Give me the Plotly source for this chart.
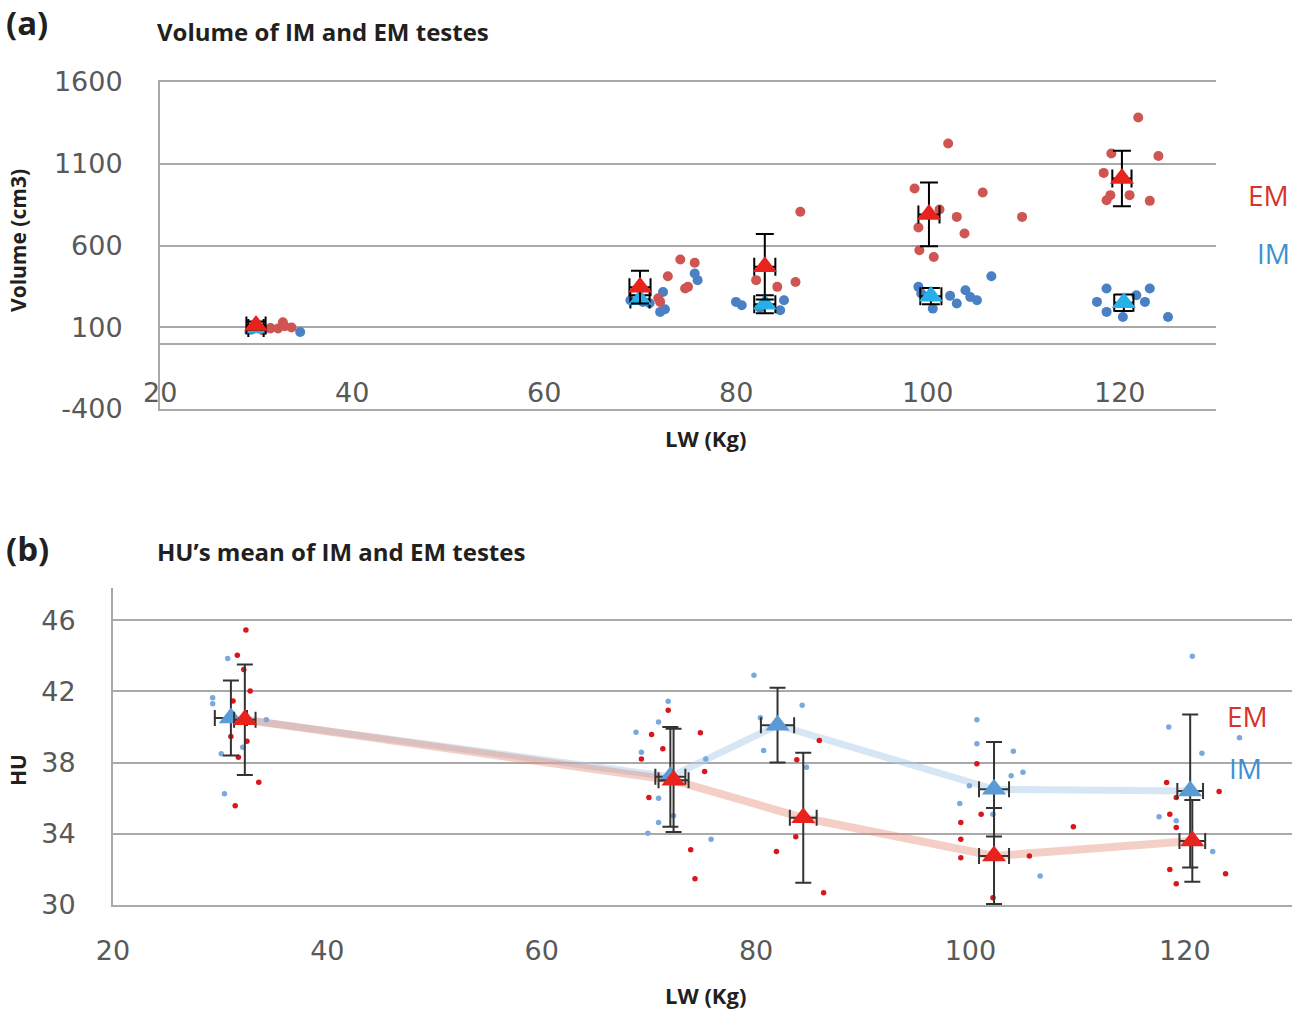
import plotly.graph_objects as go

W, H = 1295, 1010

# ---------------- Panel (a): Volume ----------------
A_X_TICKS = [20, 40, 60, 80, 100, 120]
A_Y_TICKS = [-400, 100, 600, 1100, 1600]

A_EM_X = [30.7, 31.5, 32.3, 33.0, 33.7, 32.8,
          71.9, 72.1, 72.9, 74.2, 74.7, 75.0, 75.7,
          82.1, 84.3, 86.2, 86.7,
          98.6, 99.0, 99.1, 100.6, 101.2, 102.1, 103.0, 103.8, 105.7, 109.8,
          118.3, 118.6, 119.0, 119.1, 121.0, 121.9, 123.1, 124.0]
A_EM_Y = [82, 92, 92, 106, 98, 130,
          277, 255, 412, 514, 337, 347, 494,
          388, 347, 377, 806,
          949, 710, 571, 530, 820, 1224, 775, 673, 924, 775,
          1044, 877, 908, 1163, 908, 1383, 873, 1147]

A_IM_X = [29.5, 30.5, 31.5, 34.6,
          69.0, 70.3, 71.0, 72.1, 72.4, 72.6, 75.7, 76.0,
          80.0, 80.6, 82.5, 84.6, 85.0,
          99.0, 99.3, 100.5, 102.3, 103.0, 103.9, 104.4, 105.1, 106.6,
          117.6, 118.6, 118.6, 120.3, 121.7, 122.6, 123.1, 125.0]
A_IM_Y = [85, 90, 95, 71,
          265, 255, 247, 194, 316, 210, 429, 388,
          255, 235, 220, 204, 265,
          347, 306, 214, 292, 245, 326, 285, 265, 412,
          255, 337, 194, 163, 296, 255, 337, 163]

A_EM_MEAN_X = [30.0, 70.0, 83.0, 100.1, 120.2]
A_EM_MEAN_Y = [110, 345, 470, 790, 1010]
A_EM_SD_Y = [25, 100, 200, 195, 170]
A_EM_SD_X = [1.0, 1.1, 1.1, 1.1, 1.0]
A_IM_MEAN_X = [30.0, 70.0, 83.0, 100.3, 120.4]
A_IM_MEAN_Y = [95, 270, 240, 290, 250]
A_IM_SD_Y = [15, 25, 55, 50, 50]
A_IM_SD_X = [0.8, 1.0, 1.1, 1.1, 1.0]

# ---------------- Panel (b): HU ----------------
B_X_TICKS = [20, 40, 60, 80, 100, 120]
B_Y_TICKS = [30, 34, 38, 42, 46]

B_EM_X = [32.4, 31.6, 32.2, 32.8, 31.2, 31.0, 32.5, 31.7, 33.6, 31.4,
          71.8, 70.25, 74.8, 71.3, 69.3, 75.2, 70.0, 73.9, 74.3,
          85.9, 83.8, 83.7, 81.9, 86.3,
          100.6, 101.0, 99.1, 99.1, 99.1, 105.5, 109.6, 102.1,
          118.3, 123.2, 119.2, 118.6, 119.2, 118.6, 123.8, 119.2]
B_EM_Y = [45.44, 44.03, 43.22, 42.02, 41.45, 39.46, 39.2, 38.3, 36.89, 35.58,
          40.93, 39.58, 39.67, 38.77, 38.2, 37.49, 36.04, 33.1, 31.48,
          39.24, 38.15, 33.83, 33.0, 30.69,
          37.93, 35.1, 34.63, 33.69, 32.66, 32.75, 34.39, 30.41,
          36.88, 36.38, 36.04, 35.1, 34.35, 32.0, 31.76, 31.2]
B_IM_X = [30.7, 29.3, 29.3, 34.3, 30.1, 32.1, 30.4,
          71.8, 70.9, 68.8, 69.3, 75.3, 70.9, 72.3, 70.9, 69.9, 75.8,
          79.8, 84.3, 80.4, 80.7, 84.7,
          100.6, 100.6, 104.0, 104.9, 103.8, 99.9, 99.0, 102.1, 106.5,
          120.7, 118.5, 125.1, 121.6, 117.6, 119.2, 122.6]
B_IM_Y = [43.84, 41.64, 41.3, 40.4, 38.49, 38.86, 36.24,
          41.44, 40.27, 39.7, 38.58, 38.2, 36.0, 35.01, 34.63, 34.03, 33.69,
          42.9, 41.21, 40.52, 38.68, 37.73,
          40.4, 39.05, 38.63, 37.45, 37.26, 36.7, 35.7, 35.1, 31.63,
          43.97, 39.99, 39.39, 38.52, 34.96, 34.73, 33.0]

B_EM_MEAN_X = [32.3, 72.3, 84.4, 102.2, 120.7]
B_EM_MEAN_Y = [40.4, 37.0, 34.9, 32.75, 33.6]
B_EM_SD_Y = [3.1, 2.9, 3.65, 2.7, 2.3]
B_EM_SD_X = [1.0, 1.4, 1.25, 1.4, 1.2]
B_IM_MEAN_X = [31.0, 72.0, 82.0, 102.2, 120.5]
B_IM_MEAN_Y = [40.5, 37.2, 40.1, 36.5, 36.4]
B_IM_SD_Y = [2.1, 2.8, 2.1, 2.65, 4.3]
B_IM_SD_X = [1.5, 1.4, 1.55, 1.4, 1.2]


def pxx(x):
    return x / W


def pyy(y):
    return 1 - y / H


fig = go.Figure()

# ---- panel a traces ----
fig.add_trace(go.Scatter(x=A_IM_X, y=A_IM_Y, mode="markers", xaxis="x", yaxis="y",
                         marker=dict(size=10, color="#4a80c4"), showlegend=False))
fig.add_trace(go.Scatter(x=A_EM_X, y=A_EM_Y, mode="markers", xaxis="x", yaxis="y",
                         marker=dict(size=10, color="#cf5552"), showlegend=False))
fig.add_trace(go.Scatter(x=A_IM_MEAN_X, y=A_IM_MEAN_Y, mode="markers", xaxis="x", yaxis="y",
                         marker=dict(size=21, color="#27b0e8", symbol="triangle-up"),
                         error_y=dict(type="data", array=A_IM_SD_Y, color="black", thickness=2, width=9),
                         error_x=dict(type="data", array=A_IM_SD_X, color="black", thickness=2, width=9),
                         showlegend=False))
fig.add_trace(go.Scatter(x=A_EM_MEAN_X, y=A_EM_MEAN_Y, mode="markers", xaxis="x", yaxis="y",
                         marker=dict(size=21, color="#e8231d", symbol="triangle-up"),
                         error_y=dict(type="data", array=A_EM_SD_Y, color="black", thickness=2, width=9),
                         error_x=dict(type="data", array=A_EM_SD_X, color="black", thickness=2, width=9),
                         showlegend=False))

# ---- panel b traces ----
fig.add_trace(go.Scatter(x=B_IM_MEAN_X, y=B_IM_MEAN_Y, mode="lines", xaxis="x2", yaxis="y2",
                         line=dict(width=7, color="rgba(175,205,235,0.5)"), showlegend=False))
fig.add_trace(go.Scatter(x=B_EM_MEAN_X, y=B_EM_MEAN_Y, mode="lines", xaxis="x2", yaxis="y2",
                         line=dict(width=8, color="rgba(226,140,120,0.42)"), showlegend=False))
fig.add_trace(go.Scatter(x=B_IM_X, y=B_IM_Y, mode="markers", xaxis="x2", yaxis="y2",
                         marker=dict(size=5.5, color="#79a9dd"), showlegend=False))
fig.add_trace(go.Scatter(x=B_EM_X, y=B_EM_Y, mode="markers", xaxis="x2", yaxis="y2",
                         marker=dict(size=5.5, color="#d9161c"), showlegend=False))
fig.add_trace(go.Scatter(x=B_IM_MEAN_X, y=B_IM_MEAN_Y, mode="markers", xaxis="x2", yaxis="y2",
                         marker=dict(size=21, color="#5b9bd5", symbol="triangle-up"),
                         error_y=dict(type="data", array=B_IM_SD_Y, color="#333333", thickness=2, width=8),
                         error_x=dict(type="data", array=B_IM_SD_X, color="#333333", thickness=2, width=8),
                         showlegend=False))
fig.add_trace(go.Scatter(x=B_EM_MEAN_X, y=B_EM_MEAN_Y, mode="markers", xaxis="x2", yaxis="y2",
                         marker=dict(size=21, color="#e8231d", symbol="triangle-up"),
                         error_y=dict(type="data", array=B_EM_SD_Y, color="#333333", thickness=2, width=8),
                         error_x=dict(type="data", array=B_EM_SD_X, color="#333333", thickness=2, width=8),
                         showlegend=False))

GRID = "#a9a9a9"
TICKFONT = dict(family="DejaVu Sans", size=27, color="#595959")

fig.update_layout(
    width=W, height=H,
    margin=dict(l=0, r=0, t=0, b=0, autoexpand=False),
    paper_bgcolor="white", plot_bgcolor="white",
    xaxis=dict(domain=[pxx(160), pxx(1216)], range=[20, 130], anchor="y", automargin=False,
               showgrid=False, zeroline=False, showticklabels=False,
               showline=True, mirror=True, linecolor=GRID, linewidth=2, ticks=""),
    yaxis=dict(domain=[pyy(409), pyy(82)], range=[-400, 1600], anchor="x", automargin=False,
               tickvals=A_Y_TICKS, ticktext=[str(v) for v in A_Y_TICKS],
               showgrid=True, gridcolor=GRID, gridwidth=2,
               zeroline=True, zerolinecolor=GRID, zerolinewidth=2,
               showline=True, linecolor=GRID, linewidth=2,
               tickfont=TICKFONT, ticklabelstandoff=30),
    xaxis2=dict(domain=[pxx(113), pxx(1292)], range=[20, 130], anchor="y2", automargin=False,
                tickvals=B_X_TICKS, ticktext=[str(v) for v in B_X_TICKS],
                showgrid=False, zeroline=False,
                showline=True, linecolor=GRID, linewidth=2,
                tickfont=TICKFONT, ticklabelstandoff=21),
    yaxis2=dict(domain=[pyy(905), pyy(588)], range=[30, 47.8], anchor="x2", automargin=False,
                tickvals=B_Y_TICKS, ticktext=[str(v) for v in B_Y_TICKS],
                showgrid=True, gridcolor=GRID, gridwidth=2, zeroline=False,
                showline=True, linecolor=GRID, linewidth=2,
                tickfont=TICKFONT, ticklabelstandoff=30),
)

annotations = []
# panel a x tick labels (drawn inside the plot, above the bottom border)
for t in A_X_TICKS:
    annotations.append(dict(x=t, y=-298, xref="x", yref="y", text=str(t), showarrow=False,
                            xanchor="center", yanchor="middle", font=TICKFONT))

TITLE_FONT = "Open Sans"
def txt(x, y, s, size, color="#231f20", bold=True, xanchor="left", angle=0, family=TITLE_FONT):
    annotations.append(dict(x=pxx(x), y=pyy(y), xref="paper", yref="paper",
                            text=("<b>%s</b>" % s) if bold else s, showarrow=False,
                            xanchor=xanchor, yanchor="middle", textangle=angle,
                            font=dict(family=family, size=size, color=color)))

txt(4, 22, "(a)", 33)
txt(155, 31, "Volume of IM and EM testes", 24)
txt(18, 241, "Volume (cm3)", 21, xanchor="center", angle=-90)
txt(705, 438, "LW (Kg)", 22, xanchor="center")
txt(1268, 195, "EM", 28, color="#d8322c", bold=False, xanchor="center")
txt(1273, 253, "IM", 28, color="#3f8fd3", bold=False, xanchor="center")

txt(4, 548, "(b)", 33)
txt(155, 551, "HU’s mean of IM and EM testes", 24)
txt(18, 770, "HU", 21, xanchor="center", angle=-90)
txt(705, 995, "LW (Kg)", 22, xanchor="center")
txt(1247, 716, "EM", 28, color="#d8322c", bold=False, xanchor="center")
txt(1245, 768, "IM", 28, color="#3f8fd3", bold=False, xanchor="center")

fig.update_layout(annotations=annotations)

fig.write_html("out.html")
